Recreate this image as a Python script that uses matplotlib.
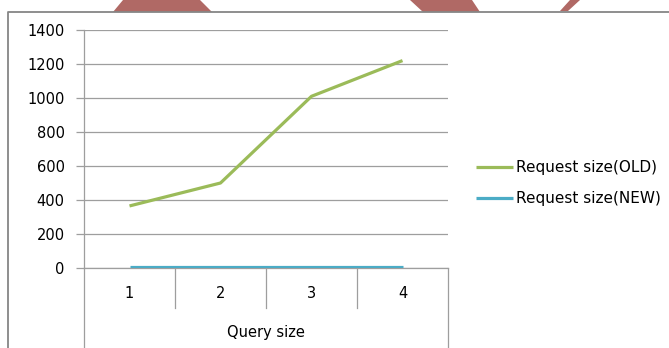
import matplotlib
matplotlib.use('Agg')
import matplotlib.pyplot as plt
import matplotlib.transforms as mtransforms
from matplotlib.lines import Line2D
from matplotlib.patches import Polygon

plt.rcParams['font.family'] = ['DejaVu Sans']

# data
categories = ['1', '2', '3', '4']
old_size = [365, 500, 1010, 1220]
new_size = [5, 5, 5, 5]
y_ticks = [0, 200, 400, 600, 800, 1000, 1200, 1400]

W, H = 669, 348
fig = plt.figure(figsize=(W / 100, H / 100), dpi=100)

def fx(px):
    return px / W

def fy(py):
    return 1 - py / H

ax = fig.add_axes([fx(84), fy(268), fx(448) - fx(84), fy(30) - fy(268)])

x = list(range(1, len(categories) + 1))
ax.plot(x, old_size, color='#9BBB59', lw=2.3, solid_capstyle='butt', label='Request size(OLD)', zorder=3)
ax.plot(x, new_size, color='#4BACC6', lw=2.3, solid_capstyle='butt', label='Request size(NEW)', zorder=3)

ax.set_xlim(0.5, len(categories) + 0.5)
ax.set_ylim(0, 1400)
ax.set_yticks(y_ticks)
ax.set_yticklabels([str(v) for v in y_ticks], fontsize=10.5)
ax.yaxis.grid(True, color='#9E9E9E', lw=0.9)
ax.set_axisbelow(True)
ax.tick_params(axis='y', length=6, width=0.9, color='#9E9E9E', pad=8)

ax.set_xticks(x)
ax.set_xticklabels(categories, fontsize=10.5)
ax.tick_params(axis='x', length=0, pad=13)

for s in ['top', 'right']:
    ax.spines[s].set_visible(False)
ax.spines['left'].set_color('#9E9E9E')
ax.spines['left'].set_linewidth(0.9)
ax.spines['bottom'].set_color('#9E9E9E')
ax.spines['bottom'].set_linewidth(0.9)

# category separators below the axis (Excel multi-level look)
trans = mtransforms.blended_transform_factory(ax.transData, ax.transAxes)
bounds = [i + 0.5 for i in range(len(categories) + 1)]
for i, b in enumerate(bounds):
    lo = -0.4 if i in (0, len(bounds) - 1) else -0.168
    ax.plot([b, b], [0, lo], transform=trans, color='#9E9E9E', lw=0.9, clip_on=False)

ax.text(0.5, -0.273, 'Query size', transform=ax.transAxes, ha='center', va='center', fontsize=10.5)

fig.legend(loc='upper left', bbox_to_anchor=(fx(476), fy(160)), frameon=False,
           fontsize=11, handlelength=2.4, handletextpad=0.2, labelspacing=1.05,
           borderpad=0, borderaxespad=0)

# outer chart frame (only left and top edges visible in the crop)
fig.add_artist(Line2D([fx(8), fx(8), 1.5], [-0.5, fy(12), fy(12)],
                      transform=fig.transFigure, color='#868686', lw=1.3))

# red shapes cut off at top of the screenshot
red = '#B06965'
shapes = [
    [(123, 0), (200, 0), (212, 12), (113, 12)],
    [(410, 0), (472, 0), (480, 12), (423, 12)],
    [(570, 0), (580, 0), (568, 11), (560, 11)],
]
for pts in shapes:
    fig.patches.append(Polygon([(fx(a), fy(b)) for a, b in pts], closed=True,
                               transform=fig.transFigure, facecolor=red, edgecolor='none'))

fig.savefig('out.png', dpi=100)
